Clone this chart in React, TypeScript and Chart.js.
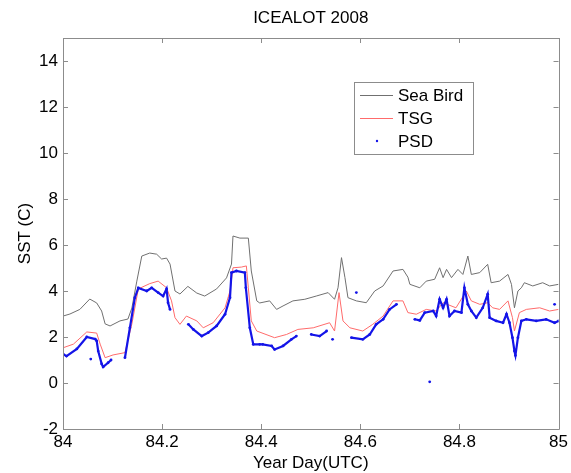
import React, { useEffect, useRef } from "react";
import { Chart, registerables } from "chart.js";

Chart.register(...registerables);

// ---- data ----
const xTicks = [84, 84.2, 84.4, 84.6, 84.8, 85];
const yTicks = [-2, 0, 2, 4, 6, 8, 10, 12, 14];

const seaBirdDay = [
  84.0, 84.014, 84.034, 84.054, 84.068, 84.078, 84.085, 84.095, 84.115, 84.131,
  84.139, 84.149, 84.159, 84.175, 84.189, 84.199, 84.209, 84.216, 84.226, 84.236,
  84.252, 84.27, 84.286, 84.31, 84.33, 84.34, 84.343, 84.357, 84.374, 84.38,
  84.391, 84.397, 84.417, 84.431, 84.444, 84.464, 84.488, 84.511, 84.535, 84.548,
  84.555, 84.562, 84.569, 84.575, 84.592, 84.612, 84.629, 84.646, 84.666, 84.686,
  84.696, 84.7, 84.72, 84.733, 84.75, 84.76, 84.767, 84.774, 84.784, 84.797,
  84.807, 84.817, 84.824, 84.841, 84.857, 84.864, 84.881, 84.898, 84.905, 84.911,
  84.918, 84.925, 84.931, 84.948, 84.968, 84.982, 85.0,
];
const seaBirdSst = [
  2.91, 3.0, 3.2, 3.65, 3.48, 3.13, 2.57, 2.48, 2.7, 2.78,
  3.26, 4.43, 5.52, 5.65, 5.6, 5.39, 5.43, 5.17, 4.0, 3.87,
  4.2, 3.91, 3.78, 4.09, 4.57, 5.17, 6.39, 6.3, 6.3, 4.87,
  3.57, 3.48, 3.57, 3.2, 3.35, 3.57, 3.64, 3.78, 3.93, 3.64,
  4.14, 5.45, 4.58, 3.71, 3.57, 3.49, 4.0, 4.22, 4.87, 4.94,
  4.6, 4.29, 4.14, 4.43, 4.51, 5.01, 4.58, 4.94, 4.58, 4.94,
  4.72, 5.52, 4.72, 4.8, 5.16, 4.36, 4.43, 4.72, 4.29, 3.27,
  4.0, 4.14, 4.36, 4.22, 4.36, 4.22, 4.29,
];

const tsgDay = [
  84.0, 84.021, 84.048, 84.068, 84.075, 84.085, 84.101, 84.125, 84.139, 84.152,
  84.175, 84.192, 84.209, 84.219, 84.226, 84.236, 84.249, 84.27, 84.283, 84.303,
  84.327, 84.337, 84.343, 84.36, 84.37, 84.374, 84.38, 84.391, 84.427, 84.451,
  84.474, 84.505, 84.538, 84.548, 84.557, 84.565, 84.579, 84.605, 84.625, 84.646,
  84.666, 84.686, 84.696, 84.713, 84.733, 84.753, 84.767, 84.793, 84.814, 84.824,
  84.841, 84.857, 84.867, 84.881, 84.898, 84.907, 84.911, 84.921, 84.935, 84.962,
  84.982, 85.0,
];
const tsgSst = [
  1.53, 1.69, 2.22, 2.17, 1.69, 1.1, 1.22, 1.32, 2.57, 4.09,
  4.32, 4.43, 4.14, 3.57, 2.84, 2.55, 2.91, 2.7, 2.4, 2.62,
  3.27, 4.0, 5.01, 5.04, 5.09, 4.14, 2.7, 2.26, 1.97, 2.11,
  2.33, 2.4, 2.62, 2.26, 3.93, 2.7, 2.4, 2.26, 2.55, 2.91,
  3.57, 3.57, 3.06, 2.99, 3.2, 3.13, 3.49, 3.27, 4.0, 3.57,
  3.42, 3.49, 3.27, 3.2, 3.57, 2.84, 2.26, 3.06, 3.2, 3.27,
  3.13, 3.2,
];

// null values mark gaps in the PSD record
const psdDay = [
  84.0, 84.007, 84.028, 84.048, 84.065, 84.068, 84.071, 84.078, 84.081, 84.091, 84.097,
  84.1, 84.056, 84.06,
  84.125, 84.135, 84.145, 84.152, 84.169, 84.179, 84.192, 84.202, 84.209, 84.212, 84.216,
  84.22,
  84.253, 84.263, 84.28, 84.293, 84.31, 84.327, 84.337, 84.34, 84.35, 84.367, 84.369,
  84.377, 84.384, 84.397, 84.403, 84.421, 84.427, 84.444, 84.461, 84.471,
  84.48, 84.501, 84.518, 84.532,
  84.538, 84.544, 84.55,
  84.582, 84.605, 84.619, 84.632, 84.646, 84.659, 84.673,
  84.68, 84.592, 84.6, 84.74, 84.745,
  84.71, 84.72, 84.73, 84.747, 84.753, 84.76, 84.767, 84.774, 84.78, 84.79,
  84.804, 84.81, 84.817, 84.824, 84.834, 84.847, 84.857, 84.861, 84.874, 84.888,
  84.895, 84.901, 84.907, 84.911, 84.913, 84.918, 84.925, 84.935, 84.955, 84.975,
  84.992, 85.0,
  85.0, 84.992,
];
const psdSst = [
  1.26, 1.17, 1.48, 2.0, 1.91, 1.83, 1.39, 0.83, 0.7, 0.88, 1.0,
  null, 1.04, null,
  1.1, 2.4, 3.71, 4.13, 4.0, 4.14, 3.93, 3.78, 4.09, 3.49, 3.2,
  null,
  2.55, 2.33, 2.04, 2.19, 2.48, 2.99, 3.71, 4.8, 4.87, 4.8, 4.14,
  2.4, 1.68, 1.68, 1.68, 1.61, 1.46, 1.61, 1.9, 2.04,
  null, 2.11, 2.04, 2.26,
  null, 1.9, null,
  1.97, 1.9, 2.11, 2.55, 2.77, 3.2, 3.42,
  null, 3.93, null, 0.05, null,
  2.77, 2.72, 3.06, 3.13, 2.91, 3.64, 3.27, 3.64, 2.91, 3.13,
  3.06, 4.14, 3.42, 3.13, 2.84, 3.27, 3.86, 2.84, 2.7, 2.62,
  2.99, 2.62, 1.97, 1.39, 1.2, 1.97, 2.7, 2.77, 2.7, 2.77,
  2.62, 2.7,
  null, 3.42,
];

const FONT = "'Liberation Sans', Arial, sans-serif";
const AXIS_GREY = "#8c8c8c";
const SEABIRD_COLOR = "#707070";
const TSG_COLOR = "#ff6b6b";
const PSD_COLOR = "#1414e8";

const toPoints = (xs: number[], ys: (number | null)[]) =>
  xs.map((x, i) => ({ x, y: ys[i] }));

const framePlugin = {
  id: "matlabFrame",
  afterDatasetsDraw(chart: any) {
    const { ctx, chartArea: a, scales } = chart;
    const xs = scales.x;
    const ys = scales.y;
    ctx.save();
    ctx.strokeStyle = AXIS_GREY;
    ctx.lineWidth = 1;
    ctx.beginPath();
    ctx.rect(Math.round(a.left) + 0.5, Math.round(a.top) + 0.5, Math.round(a.right - a.left), Math.round(a.bottom - a.top));
    ctx.stroke();
    const tl = 5;
    ctx.beginPath();
    xTicks.forEach((v) => {
      const px = Math.round(xs.getPixelForValue(v)) + 0.5;
      ctx.moveTo(px, a.bottom);
      ctx.lineTo(px, a.bottom - tl);
      ctx.moveTo(px, a.top);
      ctx.lineTo(px, a.top + tl);
    });
    yTicks.forEach((v) => {
      const py = Math.round(ys.getPixelForValue(v)) + 0.5;
      ctx.moveTo(a.left, py);
      ctx.lineTo(a.left + tl, py);
      ctx.moveTo(a.right, py);
      ctx.lineTo(a.right - tl, py);
    });
    ctx.stroke();

    // legend
    const lx = 354, ly = 82, lw = 119, lh = 72;
    ctx.fillStyle = "#ffffff";
    ctx.fillRect(lx, ly, lw, lh);
    ctx.strokeStyle = AXIS_GREY;
    ctx.strokeRect(lx + 0.5, ly + 0.5, lw, lh);
    const rows = [
      { label: "Sea Bird", y: 95, kind: "line", color: SEABIRD_COLOR },
      { label: "TSG", y: 118, kind: "line", color: TSG_COLOR },
      { label: "PSD", y: 141, kind: "dot", color: PSD_COLOR },
    ];
    ctx.font = `17px ${FONT}`;
    ctx.textBaseline = "middle";
    ctx.textAlign = "left";
    rows.forEach((r) => {
      if (r.kind === "line") {
        ctx.strokeStyle = r.color;
        ctx.beginPath();
        ctx.moveTo(360, r.y + 0.5);
        ctx.lineTo(393, r.y + 0.5);
        ctx.stroke();
      } else {
        ctx.fillStyle = r.color;
        ctx.beginPath();
        ctx.arc(377, r.y, 1.2, 0, Math.PI * 2);
        ctx.fill();
      }
      ctx.fillStyle = "#000000";
      ctx.fillText(r.label, 398, r.y + 1);
    });

    // titles
    ctx.fillStyle = "#000000";
    ctx.textAlign = "center";
    ctx.fillText("ICEALOT 2008", (a.left + a.right) / 2, 18);
    ctx.fillText("Year Day(UTC)", (a.left + a.right) / 2, 463);
    ctx.save();
    ctx.translate(25, (a.top + a.bottom) / 2);
    ctx.rotate(-Math.PI / 2);
    ctx.fillText("SST (C)", 0, 0);
    ctx.restore();
    ctx.restore();
  },
};

export default function App() {
  const ref = useRef<HTMLCanvasElement | null>(null);
  useEffect(() => {
    document.body.style.margin = "0";
    const canvas = ref.current;
    if (!canvas) return;
    const chart = new Chart(canvas, {
      type: "scatter",
      data: {
        datasets: [
          {
            label: "PSD",
            data: toPoints(psdDay, psdSst),
            showLine: true,
            spanGaps: false,
            borderColor: PSD_COLOR,
            backgroundColor: PSD_COLOR,
            borderWidth: 2.2,
            pointRadius: 1.4,
            pointBorderWidth: 0,
          },
          {
            label: "TSG",
            data: toPoints(tsgDay, tsgSst),
            showLine: true,
            borderColor: TSG_COLOR,
            borderWidth: 1,
            pointRadius: 0,
          },
          {
            label: "Sea Bird",
            data: toPoints(seaBirdDay, seaBirdSst),
            showLine: true,
            borderColor: SEABIRD_COLOR,
            borderWidth: 1,
            pointRadius: 0,
          },
        ],
      } as any,
      options: {
        animation: false,
        responsive: false,
        devicePixelRatio: 1,
        layout: { padding: { top: 38, right: 12, left: 0, bottom: 0 } },
        plugins: {
          legend: { display: false },
          tooltip: { enabled: false },
          title: { display: false },
        },
        scales: {
          x: {
            type: "linear",
            min: 84,
            max: 85,
            afterBuildTicks: (s: any) => {
              s.ticks = xTicks.map((v) => ({ value: v }));
            },
            afterFit: (s: any) => {
              s.height = 44;
            },
            grid: { display: false, drawTicks: false },
            border: { display: false },
            ticks: {
              padding: 3,
              color: "#000",
              font: { family: FONT, size: 17 },
              autoSkip: false,
              maxRotation: 0,
              callback: (v: any) => String(Number(Number(v).toFixed(1))),
            },
          },
          y: {
            type: "linear",
            min: -2,
            max: 15,
            afterBuildTicks: (s: any) => {
              s.ticks = yTicks.map((v) => ({ value: v }));
            },
            afterFit: (s: any) => {
              s.width = 63;
            },
            grid: { display: false, drawTicks: false },
            border: { display: false },
            ticks: {
              padding: 5,
              color: "#000",
              font: { family: FONT, size: 17 },
              autoSkip: false,
              callback: (v: any) => String(v),
            },
          },
        },
      } as any,
      plugins: [framePlugin],
    });
    return () => chart.destroy();
  }, []);
  return <canvas ref={ref} width={571} height={473} style={{ display: "block" }} />;
}
